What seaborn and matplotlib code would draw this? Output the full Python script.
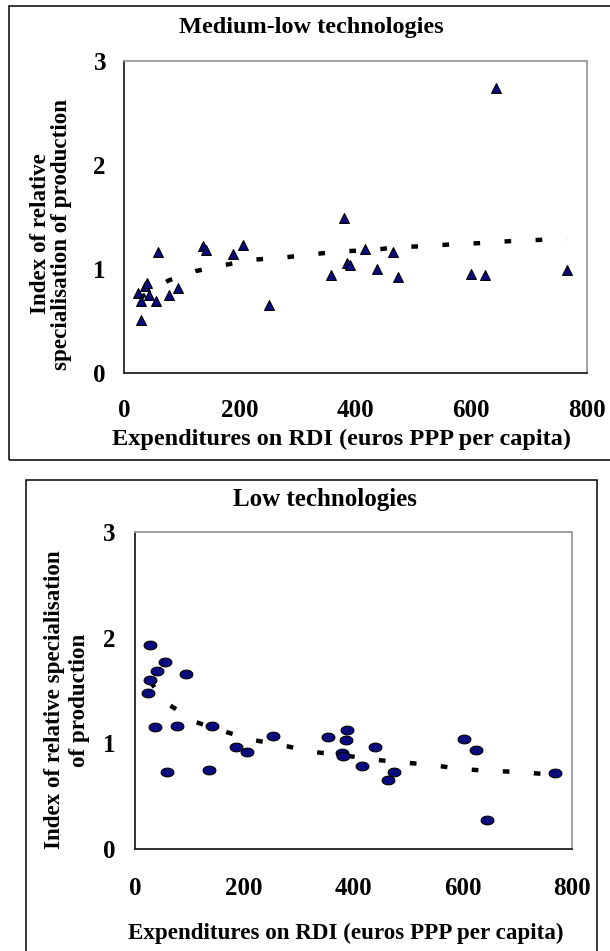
import numpy as np
import pandas as pd
import seaborn as sns
import matplotlib.pyplot as plt
from matplotlib.path import Path
from matplotlib.patches import Rectangle

# Medium-low technologies: RDI expenditure vs specialisation index
ml_rdi = [643, 380, 137, 142, 206, 188, 59, 417, 465, 386, 390, 437, 357, 474,
          600, 624, 766, 251, 37, 39, 44, 25, 29, 29, 56, 77, 93]
ml_index = [2.74, 1.49, 1.22, 1.18, 1.23, 1.14, 1.16, 1.19, 1.16, 1.06, 1.04, 1.00, 0.94, 0.92,
            0.95, 0.94, 0.99, 0.65, 0.84, 0.87, 0.75, 0.77, 0.69, 0.51, 0.69, 0.75, 0.82]
# trend line
ml_trend_x = [27, 77, 124, 175, 225, 275, 324, 374, 427, 471, 523, 573, 622, 672, 719, 765]
ml_trend_y = [0.72, 0.89, 0.98, 1.04, 1.09, 1.11, 1.14, 1.17, 1.18, 1.21, 1.22, 1.24, 1.25, 1.27, 1.28, 1.29]

# Low technologies
low_rdi = [27, 27, 23, 41, 55, 93, 37, 77, 141, 59, 136, 185, 205, 252, 353, 388,
           386, 379, 381, 440, 416, 464, 475, 602, 625, 645, 769]
low_index = [1.93, 1.60, 1.48, 1.68, 1.77, 1.66, 1.15, 1.16, 1.16, 0.73, 0.75, 0.965, 0.92, 1.07, 1.06, 1.13,
             1.03, 0.905, 0.88, 0.97, 0.79, 0.65, 0.73, 1.04, 0.94, 0.27, 0.72]
low_trend_x = [28, 61, 112, 165, 218, 272, 323, 378, 431, 484, 537, 592, 644, 698, 748, 769]
low_trend_y = [1.58, 1.37, 1.20, 1.11, 1.03, 0.98, 0.92, 0.89, 0.85, 0.82, 0.80, 0.76, 0.74, 0.73, 0.71, 0.70]

x_ticks = [0, 200, 400, 600, 800]
y_ticks = [0, 1, 2, 3]
x_label = "Expenditures on RDI (euros PPP per capita)"

sns.set_style("white")
plt.rcParams['font.family'] = ['Liberation Serif', 'DejaVu Serif']
plt.rcParams['font.weight'] = 'bold'
plt.rcParams['text.color'] = 'black'
plt.rcParams['xtick.color'] = 'black'
plt.rcParams['ytick.color'] = 'black'

W, H = 610, 951
fig = plt.figure(figsize=(W / 100, H / 100), dpi=100)


def fx(px):
    return px / W


def fy(py):
    return 1 - py / H


# flattened ellipse marker like the original
t = np.linspace(0, 2 * np.pi, 40)
ellipse = Path(np.column_stack([np.cos(t), 0.68 * np.sin(t)]), closed=True)

navy = "#0b0b80"


def style_axes(ax, xpad, ypad):
    ax.set_xlim(0, 800)
    ax.set_ylim(0, 3)
    ax.set_xticks(x_ticks)
    ax.set_yticks(y_ticks)
    ax.set_xlabel("")
    ax.set_ylabel("")
    for s in ["left", "bottom"]:
        ax.spines[s].set_color("#222222")
        ax.spines[s].set_linewidth(1.3)
    for s in ["top", "right"]:
        ax.spines[s].set_color("#9a9a9a")
        ax.spines[s].set_linewidth(1.3)
    ax.tick_params(axis="both", direction="out", length=5, width=1.1, color="#222222",
                   labelsize=18, labelcolor="black")
    ax.tick_params(axis="x", pad=xpad)
    ax.tick_params(axis="y", pad=ypad)
    for lab in ax.get_xticklabels() + ax.get_yticklabels():
        lab.set_fontweight("bold")


# ---- top panel ----
ax1 = fig.add_axes([fx(124), fy(373), fx(587 - 124), (373 - 61) / H])
sns.lineplot(x=ml_trend_x, y=ml_trend_y, ax=ax1, color="black", lw=3.2,
             linestyle=(0, (1.5, 5.5)), sort=True)
sns.scatterplot(x=ml_rdi, y=ml_index, ax=ax1, marker="^", s=50, color=navy,
                edgecolor="black", linewidth=0.8, zorder=3)
style_axes(ax1, 14, 8)

fig.text(fx(311), fy(27), "Medium-low technologies", ha="center", va="center",
         fontsize=17.5, fontweight="bold")
fig.text(fx(341), fy(439), x_label, ha="center", va="center", fontsize=17.5, fontweight="bold")
fig.text(fx(51), fy(234), "Index of relative\nspecialisation of production", ha="center",
         va="center", rotation=90, fontsize=16.6, fontweight="bold", linespacing=1.05)

# ---- bottom panel ----
ax2 = fig.add_axes([fx(135), fy(849), fx(572 - 135), (849 - 532) / H])
sns.lineplot(x=low_trend_x, y=low_trend_y, ax=ax2, color="black", lw=3.2,
             linestyle=(0, (1.5, 5.5)), sort=True)
sns.scatterplot(x=low_rdi, y=low_index, ax=ax2, marker=ellipse, s=85, color=navy,
                edgecolor="black", linewidth=0.8, zorder=3)
style_axes(ax2, 15, 9)

fig.text(fx(325), fy(500), "Low technologies", ha="center", va="center",
         fontsize=18, fontweight="bold")
fig.text(fx(346), fy(933), x_label, ha="center", va="center", fontsize=16.6, fontweight="bold")
fig.text(fx(67), fy(700), "Index of relative specialisation\nof production", ha="center",
         va="center", rotation=90, fontsize=16.6, fontweight="bold", linespacing=1.25)

# panel frames
fig.patches.append(Rectangle((fx(9), fy(460)), fx(640 - 9), (460 - 6) / H,
                             transform=fig.transFigure, fill=False, ec="black", lw=1.1))
fig.patches.append(Rectangle((fx(26), fy(1000)), fx(597 - 26), (1000 - 480) / H,
                             transform=fig.transFigure, fill=False, ec="black", lw=1.1))

fig.savefig("out.png", dpi=100)
plt.close(fig)
